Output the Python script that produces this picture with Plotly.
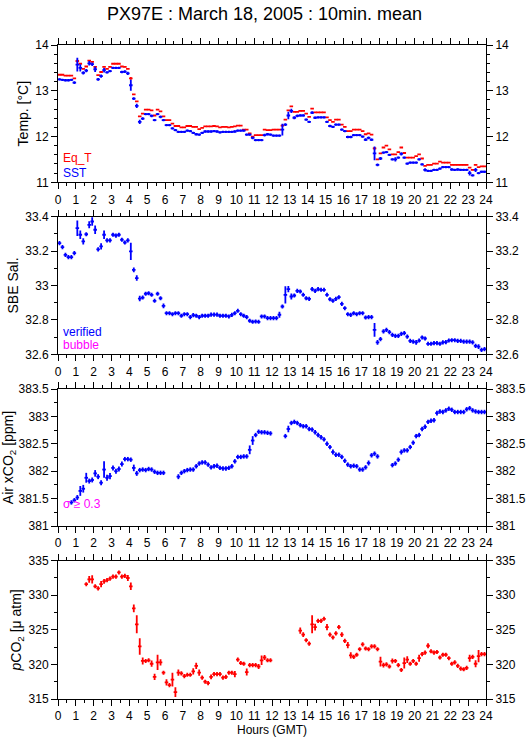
import plotly.graph_objects as go

# ---------------- data (10-minute bins, 144 per day) ----------------
TIME_H = [i / 6 + 1 / 12 for i in range(144)]  # bin centres (hours GMT)

EQ_T = [13.35, 13.35, 13.33, 13.33, 13.33, 13.27,
        13.65, 13.59, 13.48, 13.53, 13.66, 13.63,
        13.52, 13.34, 13.41, 13.52, 13.48, 13.52,
        13.59, 13.59, 13.59, 13.53, 13.52, 13.48,
        13.27, 12.92, 12.77, 12.44, 12.50, 12.59,
        12.59, 12.57, 12.46, 12.59, 12.55, 12.44,
        12.36, 12.36, 12.28, 12.23, 12.23, 12.20,
        12.20, 12.23, 12.23, 12.21, 12.21, 12.16,
        12.19, 12.22, 12.22, 12.22, 12.23, 12.22,
        12.20, 12.21, 12.21, 12.20, 12.21, 12.22,
        12.24, 12.24, 12.15, 12.15, 12.07, 12.00,
        12.03, 12.03, 12.03, 12.15, 12.14, 12.14,
        12.15, 12.15, 12.15, 12.24, 12.37, 12.57,
        12.66, 12.54, 12.54, 12.56, 12.56, 12.50,
        12.43, 12.61, 12.53, 12.53, 12.53, 12.53,
        12.42, 12.36, 12.32, 12.37, 12.37, 12.26,
        12.21, 12.12, 12.12, 12.15, 12.15, 12.15,
        12.12, 12.05, 12.07, 12.04, 11.74, 11.50,
        11.63, 11.76, 11.80, 11.72, 11.61, 11.61,
        11.66, 11.76, 11.64, 11.54, 11.54, 11.54,
        11.57, 11.61, 11.52, 11.36, 11.38, 11.38,
        11.41, 11.41, 11.45, 11.43, 11.43, 11.43,
        11.38, 11.38, 11.38, 11.38, 11.38, 11.38,
        11.32, 11.27, 11.38, 11.33, 11.35, 11.35]

EQ_T_ERR = [0.005] * 6 + [0.03] + [0.005] * 17 + [0.03] + [0.005] * 50 + [0.02] + [0.005] * 30 + [0.03] + [0.005] * 37

SST = [13.25, 13.24, 13.23, 13.23, 13.24, 13.18,
       13.57, 13.50, 13.39, 13.44, 13.60, 13.58,
       13.47, 13.25, 13.32, 13.45, 13.40, 13.43,
       13.50, 13.50, 13.50, 13.41, 13.42, 13.38,
       13.12, 12.83, 12.67, 12.32, 12.39, 12.49,
       12.49, 12.45, 12.36, 12.49, 12.43, 12.36,
       12.25, 12.25, 12.18, 12.14, 12.10, 12.10,
       12.10, 12.13, 12.12, 12.08, 12.05, 12.04,
       12.08, 12.11, 12.11, 12.11, 12.12, 12.11,
       12.09, 12.10, 12.10, 12.10, 12.10, 12.11,
       12.13, 12.13, 12.13, 12.04, 12.04, 11.97,
       11.92, 11.92, 11.92, 12.03, 12.05, 12.04,
       12.02, 12.02, 12.02, 12.15, 12.26, 12.46,
       12.56, 12.41, 12.45, 12.46, 12.46, 12.37,
       12.32, 12.52, 12.41, 12.42, 12.42, 12.42,
       12.32, 12.23, 12.21, 12.26, 12.26, 12.15,
       12.12, 11.99, 11.99, 12.03, 12.03, 12.03,
       12.00, 11.93, 11.97, 11.93, 11.63, 11.38,
       11.52, 11.65, 11.66, 11.60, 11.50, 11.50,
       11.54, 11.62, 11.54, 11.41, 11.43, 11.43,
       11.43, 11.50, 11.39, 11.27, 11.25, 11.25,
       11.27, 11.27, 11.30, 11.33, 11.33, 11.33,
       11.28, 11.27, 11.28, 11.27, 11.27, 11.27,
       11.20, 11.15, 11.27, 11.20, 11.23, 11.23]

SST_ERR = [0.025, 0.025, 0.025, 0.025, 0.025, 0.03,
           0.15, 0.08, 0.035, 0.035, 0.05, 0.04,
           0.06, 0.03, 0.035, 0.05, 0.025, 0.025,
           0.025, 0.025, 0.025, 0.025, 0.03, 0.035,
           0.12, 0.03, 0.045, 0.045, 0.03, 0.025,
           0.025, 0.03, 0.025, 0.025, 0.03, 0.025,
           0.025, 0.025, 0.025, 0.025, 0.025, 0.025,
           0.025, 0.025, 0.025, 0.025, 0.025, 0.025,
           0.025, 0.025, 0.025, 0.025, 0.025, 0.025,
           0.025, 0.025, 0.025, 0.025, 0.025, 0.025,
           0.025, 0.025, 0.025, 0.025, 0.025, 0.03,
           0.025, 0.025, 0.025, 0.03, 0.025, 0.025,
           0.025, 0.025, 0.025, 0.13, 0.03, 0.08,
           0.045, 0.035, 0.03, 0.025, 0.025, 0.025,
           0.025, 0.03, 0.025, 0.025, 0.025, 0.025,
           0.025, 0.025, 0.025, 0.025, 0.025, 0.025,
           0.025, 0.025, 0.025, 0.025, 0.025, 0.025,
           0.025, 0.03, 0.03, 0.025, 0.15, 0.03,
           0.035, 0.025, 0.025, 0.025, 0.025, 0.045,
           0.025, 0.035, 0.025, 0.025, 0.025, 0.025,
           0.025, 0.025, 0.025, 0.035, 0.025, 0.025,
           0.025, 0.025, 0.025, 0.025, 0.025, 0.025,
           0.025, 0.025, 0.025, 0.025, 0.025, 0.025,
           0.05, 0.025, 0.045, 0.025, 0.025, 0.025]

SAL = [33.246, 33.223, 33.178, 33.165, 33.165, 33.188,
       33.333, 33.295, 33.256, 33.298, 33.353, 33.372,
       33.324, 33.210, 33.227, 33.295, 33.262, 33.262,
       33.295, 33.290, 33.295, 33.266, 33.250, 33.262,
       33.198, 33.091, 33.043, 32.924, 32.930, 32.952,
       32.955, 32.946, 32.911, 32.952, 32.926, 32.882,
       32.839, 32.839, 32.833, 32.839, 32.839, 32.824,
       32.833, 32.833, 32.816, 32.828, 32.824, 32.816,
       32.824, 32.824, 32.824, 32.831, 32.831, 32.831,
       32.824, 32.824, 32.824, 32.820, 32.829, 32.839,
       32.853, 32.833, 32.824, 32.816, 32.795, 32.789,
       32.791, 32.789, 32.820, 32.820, 32.810, 32.810,
       32.810, 32.810, 32.830, 32.878, 32.946, 32.979,
       32.936, 32.942, 32.969, 32.965, 32.946, 32.926,
       32.922, 32.979, 32.969, 32.979, 32.975, 32.975,
       32.946, 32.920, 32.911, 32.922, 32.932, 32.893,
       32.868, 32.833, 32.829, 32.839, 32.833, 32.839,
       32.839, 32.814, 32.816, 32.816, 32.742, 32.669,
       32.688, 32.733, 32.742, 32.729, 32.713, 32.707,
       32.707, 32.719, 32.723, 32.703, 32.678, 32.674,
       32.669, 32.680, 32.698, 32.692, 32.661, 32.661,
       32.665, 32.665, 32.661, 32.669, 32.671, 32.680,
       32.682, 32.682, 32.678, 32.678, 32.674, 32.674,
       32.674, 32.669, 32.649, 32.645, 32.626, 32.630]

SAL_ERR = [0.012, 0.012, 0.012, 0.012, 0.012, 0.012,
           0.045, 0.025, 0.018, 0.012, 0.02, 0.025,
           0.025, 0.012, 0.018, 0.025, 0.012, 0.012,
           0.012, 0.012, 0.012, 0.012, 0.012, 0.012,
           0.05, 0.014, 0.016, 0.016, 0.012, 0.012,
           0.012, 0.012, 0.012, 0.012, 0.012, 0.014,
           0.012, 0.012, 0.012, 0.012, 0.012, 0.012,
           0.012, 0.012, 0.012, 0.012, 0.012, 0.012,
           0.012, 0.012, 0.012, 0.012, 0.012, 0.012,
           0.012, 0.012, 0.012, 0.012, 0.012, 0.012,
           0.012, 0.012, 0.012, 0.012, 0.012, 0.012,
           0.012, 0.012, 0.012, 0.012, 0.012, 0.012,
           0.012, 0.012, 0.018, 0.012, 0.05, 0.018,
           0.018, 0.012, 0.012, 0.012, 0.012, 0.012,
           0.012, 0.012, 0.012, 0.012, 0.012, 0.012,
           0.012, 0.012, 0.012, 0.012, 0.012, 0.012,
           0.012, 0.012, 0.012, 0.012, 0.012, 0.012,
           0.012, 0.012, 0.012, 0.012, 0.04, 0.014,
           0.012, 0.012, 0.012, 0.012, 0.012, 0.012,
           0.012, 0.012, 0.012, 0.012, 0.012, 0.012,
           0.014, 0.012, 0.012, 0.012, 0.012, 0.012,
           0.012, 0.012, 0.012, 0.012, 0.012, 0.012,
           0.012, 0.012, 0.012, 0.012, 0.012, 0.012,
           0.012, 0.012, 0.012, 0.014, 0.012, 0.012]

XCO2 = [None, None, None, None, 381.43, 381.47,
        381.52, 381.64, 381.68, 381.88, 381.82, 381.84,
        381.96, 381.90, 381.79, 382.03, 381.88, 381.91,
        382.06, 382.00, 382.04, 382.13, 382.22, 382.22,
        382.21, 382.06, 381.96, 382.02, 382.03, 382.02,
        382.04, 382.03, 381.99, 381.97, 381.97, 381.97,
        None, None, None, None, 381.90, 381.97,
        382.00, 382.02, 382.03, 382.03, 382.09, 382.14,
        382.16, 382.16, 382.12, 382.07, 382.09, 382.10,
        382.06, 382.05, 382.05, 382.06, 382.09, 382.18,
        382.26, 382.26, 382.27, 382.27, 382.39, 382.56,
        382.66, 382.72, 382.71, 382.71, 382.70, 382.69,
        None, None, None, None, 382.64, 382.77,
        382.88, 382.90, 382.88, 382.84, 382.82, 382.82,
        382.77, 382.76, 382.71, 382.66, 382.62, 382.58,
        382.50, 382.44, 382.35, 382.30, 382.30, 382.26,
        382.19, 382.12, 382.09, 382.10, 382.09, 382.03,
        382.03, 382.07, 382.15, 382.29, 382.32, 382.27,
        None, None, None, None, 382.11, 382.14,
        382.21, 382.35, 382.38, 382.38, 382.44, 382.52,
        382.64, 382.66, 382.77, 382.81, 382.90, 382.92,
        382.93, 383.06, 383.09, 383.08, 383.11, 383.14,
        383.12, 383.08, 383.08, 383.08, 383.08, 383.13,
        383.15, 383.11, 383.09, 383.08, 383.08, 383.08]

XCO2_ERR = [0.04, 0.04, 0.04, 0.04, 0.04, 0.04,
            0.045, 0.09, 0.07, 0.09, 0.045, 0.045,
            0.06, 0.045, 0.045, 0.15, 0.055, 0.055,
            0.045, 0.045, 0.045, 0.045, 0.04, 0.04,
            0.04, 0.06, 0.045, 0.04, 0.04, 0.04,
            0.04, 0.04, 0.04, 0.04, 0.04, 0.04,
            0.04, 0.04, 0.04, 0.04, 0.045, 0.04,
            0.04, 0.04, 0.04, 0.04, 0.04, 0.04,
            0.04, 0.04, 0.04, 0.04, 0.04, 0.04,
            0.04, 0.04, 0.04, 0.04, 0.04, 0.04,
            0.04, 0.04, 0.04, 0.04, 0.08, 0.08,
            0.04, 0.04, 0.04, 0.04, 0.04, 0.04,
            0.04, 0.04, 0.04, 0.04, 0.04, 0.06,
            0.04, 0.04, 0.04, 0.04, 0.04, 0.04,
            0.04, 0.04, 0.04, 0.04, 0.04, 0.04,
            0.04, 0.04, 0.045, 0.04, 0.04, 0.04,
            0.04, 0.04, 0.04, 0.04, 0.04, 0.04,
            0.04, 0.04, 0.045, 0.04, 0.04, 0.04,
            0.04, 0.04, 0.04, 0.04, 0.04, 0.04,
            0.04, 0.045, 0.04, 0.04, 0.04, 0.04,
            0.04, 0.04, 0.04, 0.04, 0.04, 0.04,
            0.04, 0.045, 0.04, 0.04, 0.04, 0.04,
            0.04, 0.04, 0.04, 0.04, 0.04, 0.04,
            0.04, 0.04, 0.04, 0.04, 0.04, 0.04]

PCO2 = [None, None, None, None, None, None,
        None, None, None, 331.6, 332.3, 332.3,
        331.3, 331.0, 331.6, 332.0, 332.2, 332.4,
        332.7, 332.7, 333.3, 332.7, 332.8, 332.5,
        331.3, 328.1, 325.8, 322.6, 320.5, 320.5,
        320.6, 320.1, 318.2, 320.3, 320.3, 318.8,
        317.4, 317.0, 317.8, 316.0, 318.8, 318.7,
        318.3, 318.5, 318.5, 319.0, 319.8, 318.8,
        318.1, 317.5, 317.3, 318.2, 318.6, 318.6,
        318.6, 318.1, 318.2, 318.8, 318.8, 318.6,
        320.7, 320.2, 320.1, 318.9, 319.9, 319.9,
        319.9, 319.7, 320.6, 321.0, 320.6, 320.6,
        None, None, None, None, None, None,
        None, None, None, 324.9, 324.3, 323.5,
        323.0, 325.8, 325.4, 326.3, 326.3, 326.6,
        325.4, 324.3, 323.9, 324.5, 325.4, 324.3,
        323.4, 322.8, 321.3, 321.1, 321.4, 322.2,
        322.9, 322.3, 322.2, 322.6, 322.6, 322.2,
        320.4, 319.9, 320.0, 319.7, 320.5, 320.5,
        319.9, 319.2, 320.2, 320.7, 320.1, 320.5,
        320.1, 320.9, 321.5, 321.7, 322.7, 321.9,
        321.7, 321.8, 321.0, 321.4, 321.4, 320.9,
        320.1, 320.3, 319.8, 319.4, 319.3, 319.5,
        320.9, 321.1, 320.1, 321.2, 321.5, 321.5]

PCO2_ERR = [0.3, 0.3, 0.3, 0.3, 0.3, 0.3,
            0.3, 0.3, 0.3, 0.3, 0.5, 0.6,
            0.3, 0.3, 0.45, 0.35, 0.3, 0.3,
            0.3, 0.3, 0.3, 0.3, 0.3, 0.45,
            0.55, 0.55, 1.3, 1.2, 0.5, 0.3,
            0.3, 0.45, 0.45, 1.1, 0.45, 0.3,
            0.45, 0.3, 1.0, 0.7, 0.45, 0.3,
            0.3, 0.3, 0.3, 0.45, 0.45, 0.45,
            0.3, 0.3, 0.3, 0.35, 0.3, 0.3,
            0.3, 0.3, 0.3, 0.3, 0.3, 0.45,
            0.3, 0.3, 0.3, 0.5, 0.3, 0.3,
            0.3, 0.35, 0.7, 0.35, 0.3, 0.3,
            0.3, 0.3, 0.3, 0.3, 0.3, 0.3,
            0.3, 0.3, 0.3, 0.45, 0.35, 0.3,
            0.3, 1.3, 0.5, 0.3, 0.3, 0.3,
            0.45, 0.3, 0.3, 0.3, 0.3, 0.35,
            0.3, 0.45, 0.45, 0.3, 0.3, 0.3,
            0.3, 0.3, 0.3, 0.3, 0.3, 0.3,
            0.7, 0.35, 0.3, 0.3, 0.35, 0.3,
            0.3, 0.3, 0.8, 0.5, 0.3, 0.3,
            0.3, 0.5, 0.3, 0.3, 0.35, 0.3,
            0.3, 0.3, 0.3, 0.3, 0.3, 0.3,
            0.3, 0.3, 0.3, 0.3, 0.3, 0.3,
            0.5, 0.3, 0.5, 0.9, 0.3, 0.3]

HALF_BAR = 0.1  # horizontal half-length of each 10-min bar, in hours

RED = "#ff0000"
BLUE = "#0000ff"
MAGENTA = "#ff00ff"
FONT = "Liberation Sans, Arial, sans-serif"


def cross_trace(vals, errs, color, xa, ya, name):
    """Each 10-min mean drawn as a '+': horizontal bar over the bin, vertical bar = std dev."""
    xs, ys = [], []
    for t, v, e in zip(TIME_H, vals, errs):
        if v is None:
            continue
        xs += [t - HALF_BAR, t + HALF_BAR, None, t, t, None]
        ys += [v, v, None, v - e, v + e, None]
    return go.Scatter(x=xs, y=ys, xaxis=xa, yaxis=ya, name=name, mode="lines",
                      line=dict(color=color, width=1.8), connectgaps=False,
                      showlegend=False, hoverinfo="skip")


fig = go.Figure()
fig.add_trace(cross_trace(EQ_T, EQ_T_ERR, RED, "x", "y", "Eq_T"))
fig.add_trace(cross_trace(SST, SST_ERR, BLUE, "x", "y", "SST"))
fig.add_trace(cross_trace(SAL, SAL_ERR, BLUE, "x2", "y2", "SBE Sal."))
fig.add_trace(cross_trace(XCO2, XCO2_ERR, BLUE, "x3", "y3", "Air xCO2"))
fig.add_trace(cross_trace(PCO2, PCO2_ERR, RED, "x4", "y4", "pCO2"))
# empty traces to realise the right-hand label axes
for xa, ya in [("x", "y5"), ("x2", "y6"), ("x3", "y7"), ("x4", "y8")]:
    fig.add_trace(go.Scatter(x=[None], y=[None], xaxis=xa, yaxis=ya, showlegend=False, hoverinfo="skip"))

H = 654.0
domains = [
    [(699 - 182.3) / H, 1.0],
    [(699 - 354.3) / H, (699 - 216.7) / H],
    [(699 - 526.0) / H, (699 - 389.0) / H],
    [0.0, (699 - 560.7) / H],
]
ranges = [[11, 14], [32.6, 33.4], [381, 383.5], [315, 335]]
dticks = [1, 0.2, 0.5, 5]
minors = [0.2, 0.1, 0.25, 2.5]
titles = ["Temp. [°C]", "SBE Sal.", "Air xCO<sub>2</sub> [ppm]", "<i>p</i>CO<sub>2</sub> [μ atm]"]

axis_common = dict(
    showgrid=False, zeroline=False, showline=True, linecolor="black", linewidth=1,
    ticks="outside", ticklen=6, tickwidth=1, tickcolor="black", automargin=False,
    tickfont=dict(family=FONT, size=12, color="black"),
)

layout = dict(
    width=529, height=739,
    margin=dict(l=58, r=43, t=45, b=40, autoexpand=False),
    paper_bgcolor="white", plot_bgcolor="white",
    font=dict(family=FONT, color="black"),
    title=dict(text="PX97E : March 18, 2005 : 10min. mean", x=0.5, xanchor="center",
               y=1 - 14 / 739, yanchor="middle", font=dict(family=FONT, size=18, color="black")),
    showlegend=False,
)

for k in range(4):
    xs = "xaxis" if k == 0 else f"xaxis{k + 1}"
    ys = "yaxis" if k == 0 else f"yaxis{k + 1}"
    yname = "y" if k == 0 else f"y{k + 1}"
    xname = "x" if k == 0 else f"x{k + 1}"
    xa = dict(axis_common, domain=[0, 1], anchor=yname, range=[0, 24], dtick=1, tick0=0,
              mirror="ticks",
              minor=dict(dtick=0.5, tick0=0, ticklen=3, ticks="outside", tickcolor="black", showgrid=False))
    if k == 3:
        xa["title"] = dict(text="Hours (GMT)", font=dict(family=FONT, size=12), standoff=3)
    layout[xs] = xa
    layout[ys] = dict(axis_common, domain=domains[k], anchor=xname, range=ranges[k],
                      dtick=dticks[k], mirror="ticks",
                      minor=dict(dtick=minors[k], ticklen=3, ticks="outside", tickcolor="black", showgrid=False),
                      title=dict(text=titles[k], font=dict(family=FONT, size=14), standoff=3))
    layout[f"yaxis{k + 5}"] = dict(axis_common, overlaying=yname, side="right", anchor=xname,
                                   range=ranges[k], dtick=dticks[k], showline=False,
                                   minor=dict(dtick=minors[k], ticklen=3, ticks="outside",
                                              tickcolor="black", showgrid=False))

fig.update_layout(**layout)

notes = [
    ("Eq_T", RED, "x domain", "y domain", 0.177),
    ("SST", BLUE, "x domain", "y domain", 0.068),
    ("verified", BLUE, "x2 domain", "y2 domain", 0.162),
    ("bubble", MAGENTA, "x2 domain", "y2 domain", 0.064),
    ("σ ≥ 0.3", MAGENTA, "x3 domain", "y3 domain", 0.16),
]
for text, color, xr, yr, yy in notes:
    fig.add_annotation(text=text, xref=xr, yref=yr, x=0.008, y=yy, xanchor="left", yanchor="middle",
                       showarrow=False, font=dict(family=FONT, size=12, color=color))

# remove the browser's default 8px page margin so the figure sits at the window origin
fig.write_html("out.html",
               config={"displayModeBar": False, "staticPlot": True},
               post_script="document.body.style.margin='0';document.body.style.overflow='hidden';")
